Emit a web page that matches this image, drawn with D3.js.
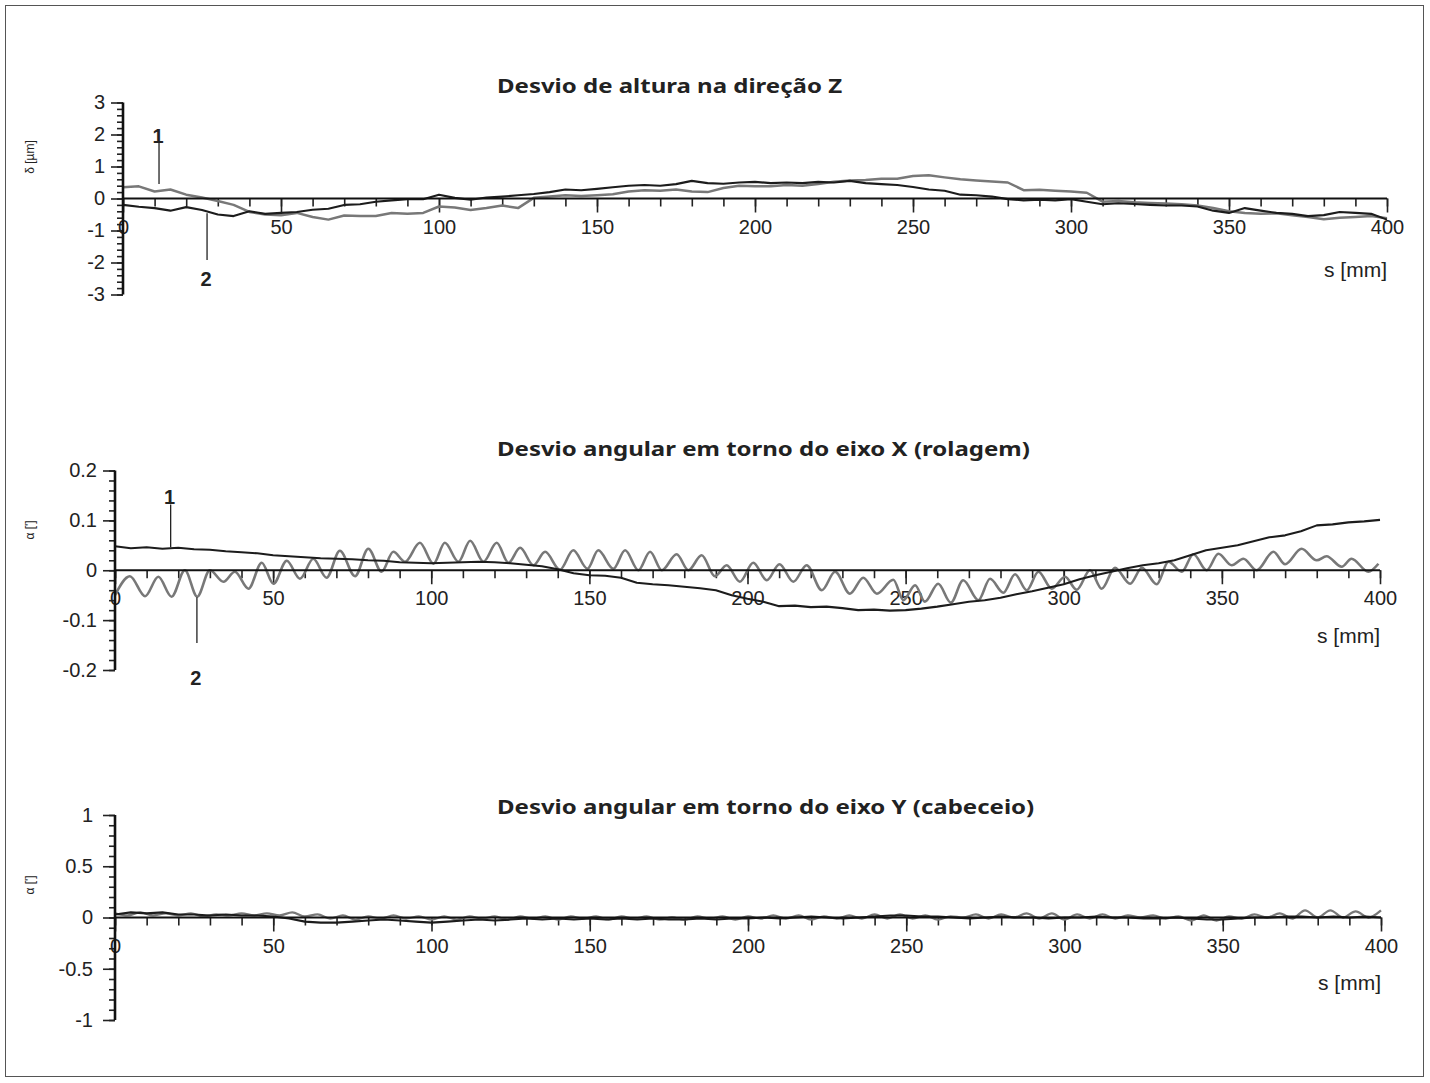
<!DOCTYPE html>
<html>
<head>
<meta charset="utf-8">
<script src="https://cdn.jsdelivr.net/npm/d3@7"></script>
<style>
  body { margin: 0; background: #fff; }
  text { font-family: "Liberation Sans", Arial, sans-serif; fill: #222; }
</style>
</head>
<body>
<svg width="1430" height="1083"></svg>
<script>
// ---- data ----
var sTicks = [0, 50, 100, 150, 200, 250, 300, 350, 400];
var heightTicks = [-3, -2, -1, 0, 1, 2, 3];
var rollTicks = [-0.2, -0.1, 0, 0.1, 0.2];
var pitchTicks = [-1, -0.5, 0, 0.5, 1];

// height deviation, sampled every 5 mm
var heightCurve1 = [0.35, 0.38, 0.22, 0.28, 0.12, 0.03, -0.08, -0.20, -0.42, -0.50, -0.52,
  -0.45, -0.58, -0.66, -0.53, -0.55, -0.55, -0.45, -0.48, -0.45, -0.25,
  -0.28, -0.36, -0.30, -0.22, -0.30, 0.02, 0.06, 0.10, 0.08, 0.10,
  0.13, 0.22, 0.26, 0.24, 0.28, 0.22, 0.20, 0.33, 0.40, 0.38,
  0.38, 0.42, 0.40, 0.45, 0.52, 0.56, 0.58, 0.62, 0.62, 0.70,
  0.73, 0.66, 0.60, 0.56, 0.53, 0.50, 0.26, 0.27, 0.24, 0.22,
  0.18, -0.10, -0.08, -0.12, -0.14, -0.16, -0.18, -0.22, -0.30, -0.40,
  -0.45, -0.48, -0.46, -0.52, -0.58, -0.65, -0.60, -0.58, -0.55, -0.62];
var heightCurve2 = [-0.20, -0.26, -0.30, -0.38, -0.27, -0.36, -0.50, -0.55, -0.40, -0.48, -0.45,
  -0.42, -0.35, -0.32, -0.20, -0.18, -0.10, -0.06, -0.02, -0.02, 0.12,
  0.02, -0.04, 0.03, 0.06, 0.10, 0.14, 0.20, 0.28, 0.26, 0.30,
  0.35, 0.40, 0.42, 0.40, 0.45, 0.55, 0.48, 0.46, 0.50, 0.52,
  0.48, 0.50, 0.48, 0.52, 0.50, 0.55, 0.48, 0.45, 0.42, 0.36,
  0.28, 0.24, 0.12, 0.10, 0.06, -0.02, -0.06, -0.04, -0.06, -0.02,
  -0.10, -0.18, -0.15, -0.17, -0.20, -0.22, -0.22, -0.25, -0.38, -0.45,
  -0.30, -0.38, -0.45, -0.48, -0.55, -0.52, -0.42, -0.45, -0.48, -0.66];

// roll, curve 1 sampled every 5 mm
var rollCurve1 = [0.048, 0.044, 0.046, 0.043, 0.045, 0.042, 0.041, 0.038, 0.036, 0.034, 0.030,
  0.028, 0.026, 0.024, 0.023, 0.022, 0.020, 0.019, 0.016, 0.015, 0.014,
  0.015, 0.016, 0.017, 0.016, 0.014, 0.011, 0.008, 0.002, -0.006, -0.010,
  -0.011, -0.015, -0.025, -0.028, -0.030, -0.033, -0.036, -0.040, -0.050, -0.057,
  -0.063, -0.072, -0.071, -0.074, -0.073, -0.076, -0.080, -0.079, -0.081, -0.080,
  -0.077, -0.073, -0.068, -0.063, -0.060, -0.055, -0.048, -0.042, -0.035, -0.028,
  -0.018, -0.010, -0.003, 0.004, 0.010, 0.014, 0.020, 0.030, 0.040, 0.045,
  0.050, 0.058, 0.066, 0.070, 0.078, 0.090, 0.092, 0.096, 0.098, 0.101];
// roll, curve 2: peaks and troughs [s, value]
var rollCurve2 = [[0, -0.05], [4.7, -0.012], [9.5, -0.052], [13.7, -0.013], [17.9, -0.053], [22.1, 0.0],
  [26.0, -0.053], [30.0, 0.0], [34.3, -0.023], [37.9, -0.003], [42.2, -0.037], [46.4, 0.015],
  [50.1, -0.027], [54.3, 0.019], [58.5, -0.017], [62.7, 0.023], [66.9, -0.015], [71.1, 0.039],
  [75.9, -0.012], [80.1, 0.043], [84.3, -0.003], [88.0, 0.037], [91.7, 0.017], [96.4, 0.055],
  [100.7, 0.013], [104.3, 0.055], [108.6, 0.017], [112.3, 0.059], [116.5, 0.017], [120.7, 0.055],
  [124.4, 0.015], [128.1, 0.045], [132.3, 0.01], [136.0, 0.037], [140.7, 0.001], [144.9, 0.04],
  [149.4, 0.003], [152.8, 0.04], [157.6, 0.003], [161.3, 0.04], [165.5, 0.0], [169.2, 0.037],
  [172.9, 0.0], [177.6, 0.032], [181.3, 0.0], [185.5, 0.03], [189.7, -0.012], [193.4, 0.01],
  [197.6, -0.023], [201.8, 0.015], [206.1, -0.02], [210.1, 0.012], [214.5, -0.023], [218.7, 0.01],
  [223.5, -0.04], [227.7, -0.003], [232.4, -0.047], [236.6, -0.015], [240.9, -0.047], [246.1, -0.019],
  [249.3, -0.06], [253.0, -0.03], [256.1, -0.063], [260.3, -0.027], [264.3, -0.065], [268.2, -0.02],
  [273.0, -0.06], [276.7, -0.017], [280.9, -0.045], [284.6, -0.008], [288.3, -0.04], [292.0, -0.003],
  [296.2, -0.037], [300.4, -0.013], [304.1, -0.039], [308.3, 0.0], [312.0, -0.037], [316.2, 0.005],
  [321.0, -0.027], [324.7, 0.005], [329.4, -0.028], [333.1, 0.017], [337.3, -0.003], [341.0, 0.032],
  [345.2, 0.0], [348.9, 0.033], [353.1, 0.01], [356.8, 0.023], [361.0, 0.0], [366.3, 0.037],
  [370.0, 0.012], [375.2, 0.043], [380.0, 0.02], [383.1, 0.028], [387.9, 0.007], [391.0, 0.023],
  [396.3, -0.003], [399.5, 0.013]];

// pitch, curve 1 sampled every 4 mm, curve 2 every 5 mm
var pitchCurve1 = [0.04, 0.02, 0.05, 0.02, 0.04, 0.02, 0.04, 0.01, 0.03, 0.02, 0.04, 0.02, 0.04,
  0.02, 0.05, 0.01, 0.03, -0.01, 0.02, -0.02, 0.01, -0.01, 0.02, -0.01, 0.01, -0.02,
  0.01, -0.02, 0.01, -0.01, 0.01, -0.02, 0.01, -0.01, 0.01, -0.02, 0.01, -0.01,
  0.01, -0.02, 0.01, -0.01, 0.01, -0.02, 0.00, -0.02, 0.01, -0.01, 0.01, -0.02, 0.01,
  -0.01, 0.02, -0.01, 0.02, -0.02, 0.01, -0.01, 0.02, -0.01, 0.03, -0.01, 0.03,
  -0.01, 0.02, -0.02, 0.01, 0.00, 0.03, -0.01, 0.03, 0.00, 0.04, -0.01, 0.04, -0.02,
  0.03, -0.01, 0.03, -0.01, 0.02, 0.00, 0.02, -0.01, 0.01, -0.03, 0.02, -0.03,
  0.01, -0.01, 0.03, 0.00, 0.04, -0.01, 0.07, 0.00, 0.07, 0.00, 0.06, 0.00, 0.07];
var pitchCurve2 = [0.03, 0.05, 0.04, 0.05, 0.03, 0.03, 0.02, 0.03, 0.02, 0.02, 0.01,
  -0.01, -0.04, -0.05, -0.05, -0.04, -0.03, -0.02, -0.03, -0.04, -0.05,
  -0.04, -0.03, -0.02, -0.03, -0.02, -0.01, -0.02, -0.01, -0.02, -0.01,
  -0.02, -0.01, -0.02, -0.01, -0.02, -0.02, -0.01, -0.02, -0.01, -0.01,
  0.00, -0.01, 0.00, 0.01, 0.00, -0.01, 0.00, 0.01, 0.02, 0.02,
  0.01, 0.01, 0.00, -0.01, 0.00, 0.01, 0.00, 0.00, -0.01, 0.00,
  0.00, 0.01, 0.00, 0.00, -0.01, -0.01, 0.00, -0.01, -0.02, -0.02,
  -0.01, 0.00, 0.00, 0.01, 0.01, 0.00, 0.01, 0.00, 0.01, 0.00];

// ---- drawing ----
var svg = d3.select("svg");
var GRAY = "#787878", BLACK = "#1c1c1c";

svg.append("rect").attr("x", 5.5).attr("y", 5.5).attr("width", 1418).attr("height", 1071)
  .attr("fill", "none").attr("stroke", "#555").attr("stroke-width", 1);

function stepped(vals, step) {
  return vals.map(function(v, i){ return [i * step, v]; });
}

function panel(p) {
  var x = d3.scaleLinear().domain([0, 400]).range([p.x0, p.x1]);
  var y = d3.scaleLinear().domain([p.ticks[0], p.ticks[p.ticks.length - 1]]).range([p.yBot, p.yTop]);
  var g = svg.append("g");

  // title (the original type is set wide)
  g.append("text").attr("transform", "translate(497," + p.titleY + ") scale(1.2,1)").text(p.title)
    .style("font-family", "'Noto Sans', sans-serif").style("font-weight", "bold").style("font-size", "20px");

  // y label
  g.append("text").attr("transform", "translate(34," + p.ylabelY + ") rotate(-90)")
    .attr("text-anchor", "middle").style("font-size", "12px").text(p.ylabel);

  // y axis: minor + major ticks
  var yMinor = d3.range(p.ticks[0], p.ticks[p.ticks.length - 1] + p.minor / 2, p.minor)
    .map(function(v){ return +v.toFixed(4); });
  g.append("g").attr("transform", "translate(" + p.x0 + ",0)")
    .call(d3.axisLeft(y).tickValues(yMinor).tickSize(6).tickSizeOuter(0).tickFormat(""));
  g.append("g").attr("transform", "translate(" + p.x0 + ",0)")
    .call(d3.axisLeft(y).tickValues(p.ticks).tickSize(12).tickSizeOuter(0).tickPadding(p.yPad)
      .tickFormat(function(d){ return String(d); }));

  // x axis at zero
  var xMinor = d3.range(0, 401, 10);
  g.append("g").attr("transform", "translate(0," + y(0) + ")")
    .call(d3.axisBottom(x).tickValues(xMinor).tickSize(8).tickSizeOuter(0).tickFormat(""));
  g.append("g").attr("transform", "translate(0," + y(0) + ")")
    .call(d3.axisBottom(x).tickValues(sTicks).tickSize(14).tickSizeOuter(0).tickPadding(7)
      .tickFormat(function(d){ return String(d); }));

  g.selectAll(".domain").remove();
  g.selectAll(".tick line").attr("stroke", "#222").attr("stroke-width", 1.6);
  g.selectAll(".tick text").style("font-family", "'Liberation Sans', Arial, sans-serif")
    .style("font-size", "20px").attr("fill", "#2a2a2a");

  // series
  p.series.forEach(function(s) {
    var line = d3.line().x(function(d){ return x(d[0]); }).y(function(d){ return y(d[1]); })
      .curve(s.curve || d3.curveLinear);
    g.append("path").datum(s.data).attr("d", line).attr("fill", "none")
      .attr("stroke", s.color).attr("stroke-width", s.width).attr("stroke-linejoin", "round");
  });

  // axis lines on top
  g.append("line").attr("x1", x(0)).attr("x2", x(400)).attr("y1", y(0)).attr("y2", y(0))
    .attr("stroke", "#111").attr("stroke-width", 1.8);
  g.append("line").attr("x1", p.x0).attr("x2", p.x0).attr("y1", p.yTop).attr("y2", p.yBot)
    .attr("stroke", "#111").attr("stroke-width", 2.6);

  // s [mm]
  g.append("text").attr("x", x(400)).attr("y", p.sLabelY).attr("text-anchor", "end")
    .style("font-size", "21px").text("s [mm]");

  // annotations 1 / 2
  (p.notes || []).forEach(function(n) {
    g.append("line").attr("x1", x(n.s)).attr("x2", x(n.s)).attr("y1", y(n.v0)).attr("y2", y(n.v1))
      .attr("stroke", "#222").attr("stroke-width", 1.3);
    g.append("text").attr("x", x(n.s) - 1).attr("y", y(n.tv)).attr("text-anchor", "middle")
      .style("font-size", "20px").style("font-weight", "bold").text(n.label);
  });
}

panel({
  x0: 123, x1: 1387, yTop: 102.5, yBot: 294.5, ticks: heightTicks, minor: 0.2, yPad: 6,
  title: "Desvio de altura na direção Z", titleY: 93, ylabel: "δ [µm]", ylabelY: 157, sLabelY: 277,
  series: [
    { data: stepped(heightCurve1, 5), color: GRAY, width: 2.5 },
    { data: stepped(heightCurve2, 5), color: BLACK, width: 2.1 }
  ],
  notes: [
    { s: 11.4, v0: 1.75, v1: 0.45, tv: 1.75, label: "1" },
    { s: 26.6, v0: -0.46, v1: -1.92, tv: -2.74, label: "2" }
  ]
});

panel({
  x0: 115, x1: 1380, yTop: 470.5, yBot: 670, ticks: rollTicks, minor: 0.02, yPad: 6,
  title: "Desvio angular em torno do eixo X (rolagem)", titleY: 456, ylabel: "α [']", ylabelY: 530, sLabelY: 643,
  series: [
    { data: rollCurve2, color: GRAY, width: 2.6, curve: d3.curveMonotoneX },
    { data: stepped(rollCurve1, 5), color: BLACK, width: 2.1 }
  ],
  notes: [
    { s: 17.6, v0: 0.132, v1: 0.046, tv: 0.132, label: "1" },
    { s: 25.9, v0: -0.054, v1: -0.146, tv: -0.23, label: "2" }
  ]
});

panel({
  x0: 115, x1: 1381, yTop: 815, yBot: 1020, ticks: pitchTicks, minor: 0.1, yPad: 10,
  title: "Desvio angular em torno do eixo Y (cabeceio)", titleY: 814, ylabel: "α [']", ylabelY: 885, sLabelY: 990,
  series: [
    { data: stepped(pitchCurve1, 4), color: GRAY, width: 2.3, curve: d3.curveMonotoneX },
    { data: stepped(pitchCurve2, 5), color: BLACK, width: 2.1 }
  ]
});
</script>
</body>
</html>
